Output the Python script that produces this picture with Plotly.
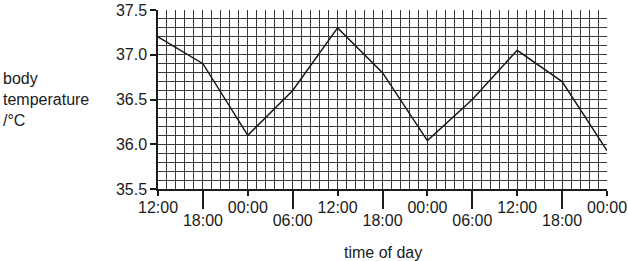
import plotly.graph_objects as go

hours = [0, 6, 12, 18, 24, 30, 36, 42, 48, 54, 60]
temps = [37.2, 36.9, 36.1, 36.6, 37.3, 36.8, 36.04, 36.5, 37.05, 36.7, 35.93]
upper_ticks = [0, 12, 24, 36, 48, 60]
upper_labels = ["12:00", "00:00", "12:00", "00:00", "12:00", "00:00"]
lower_ticks = [6, 18, 30, 42, 54]
lower_labels = ["18:00", "06:00", "18:00", "06:00", "18:00"]

FONT = "Arial, Liberation Sans, sans-serif"
GRID = "#3a3a3a"

fig = go.Figure()
fig.add_trace(go.Scatter(x=hours, y=temps, mode="lines",
                         line=dict(color="#1a1a1a", width=1.5),
                         showlegend=False, hoverinfo="skip"))
# invisible trace on second x axis so it renders
fig.add_trace(go.Scatter(x=[hours[0]], y=[temps[0]], xaxis="x2", mode="markers",
                         marker=dict(opacity=0), showlegend=False, hoverinfo="skip"))

fig.update_layout(
    width=628, height=261,
    margin=dict(l=158, r=21, t=10, b=72),
    paper_bgcolor="white", plot_bgcolor="white",
    font=dict(family=FONT, size=16, color="#1a1a1a"),
    xaxis=dict(range=[0, 60], tickmode="array", tickvals=upper_ticks, ticktext=upper_labels,
               ticks="outside", ticklen=5, tickwidth=1.5, tickcolor="#1a1a1a",
               showline=True, linecolor="#1a1a1a", linewidth=1.5, ticklabelstandoff=-2,
               showgrid=True, gridcolor=GRID, gridwidth=1, automargin=False,
               minor=dict(dtick=1.2, tick0=0, showgrid=True, gridcolor=GRID, gridwidth=1, ticks=""),
               zeroline=False, tickfont=dict(size=16)),
    xaxis2=dict(range=[0, 60], overlaying="x", side="bottom", anchor="y",
                tickmode="array", tickvals=lower_ticks, ticktext=lower_labels, ticklabelstandoff=-2,
                ticks="outside", ticklen=19, tickwidth=1.5, tickcolor="#1a1a1a", automargin=False,
                showgrid=False, zeroline=False, showline=False, tickfont=dict(size=16)),
    yaxis=dict(range=[35.5, 37.5], dtick=0.5, tick0=35.5, tickformat=".1f",
               ticks="outside", ticklen=6, tickwidth=1.5, tickcolor="#1a1a1a",
               showline=True, linecolor="#1a1a1a", linewidth=1.5, automargin=False,
               showgrid=True, gridcolor=GRID, gridwidth=1,
               minor=dict(dtick=0.1, tick0=35.5, showgrid=True, gridcolor=GRID, gridwidth=1, ticks=""),
               zeroline=False, tickfont=dict(size=16)),
)

fig.add_annotation(text="body<br>temperature<br>/°C", xref="paper", yref="paper",
                   x=-157/449, y=0.5, xanchor="left", yanchor="middle", align="left",
                   showarrow=False, font=dict(size=16))
fig.add_annotation(text="time of day", xref="paper", yref="paper",
                   x=0.5, y=-63/179, xanchor="center", yanchor="middle",
                   showarrow=False, font=dict(size=16))

fig.write_html("out.html")
